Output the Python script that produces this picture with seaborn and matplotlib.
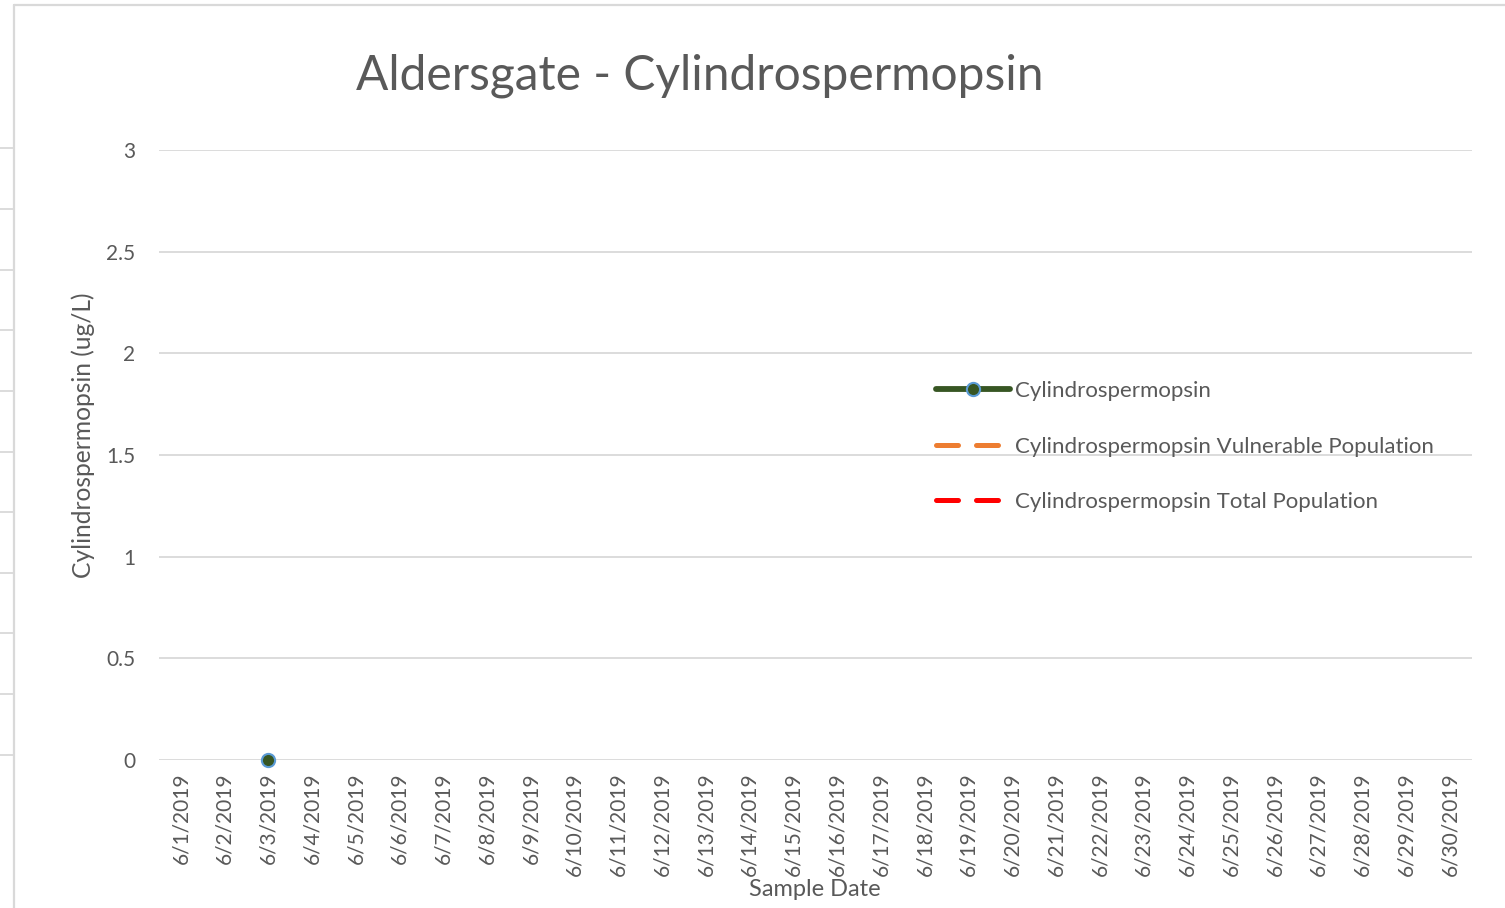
import matplotlib
matplotlib.use("Agg")
import matplotlib.pyplot as plt
from matplotlib.lines import Line2D
import seaborn as sns
import pandas as pd
import numpy as np

# ---- data ----
dates = [f"6/{d}/2019" for d in range(1, 31)]
cylindro = [np.nan] * 30
cylindro[2] = 0.0  # 6/3/2019 sample
series_names = ["Cylindrospermopsin",
                "Cylindrospermopsin Vulnerable Population",
                "Cylindrospermopsin Total Population"]
y_ticks = [0, 0.5, 1, 1.5, 2, 2.5, 3]
title = "Aldersgate - Cylindrospermopsin"

sns.set_theme(style="white")
plt.rcParams['font.family'] = ['Lato', 'DejaVu Sans']
TXT = "#595959"
GRID = "#D9D9D9"
GREEN = "#375623"
BLUE = "#5B9BD5"
ORANGE = "#ED7D31"
RED = "#FF0000"

fig = plt.figure(figsize=(15.05, 9.08), dpi=100)
ax = fig.add_axes([159/1505, 1-760/908, (1472-159)/1505, (760-150)/908])

df = pd.DataFrame({"date": dates, "value": cylindro})
sns.lineplot(data=df, x="date", y="value", ax=ax, color=GREEN, linewidth=4.2,
             marker="o", markersize=9.5, markerfacecolor=GREEN,
             markeredgecolor=BLUE, markeredgewidth=1.5, legend=False, sort=False)
ax.set_xticks(range(len(dates)))
ax.set_xticklabels(dates, rotation=90, fontsize=15, color=TXT)
ax.set_xlim(-0.5, len(dates) - 0.5)
ax.set_ylim(0, 3)
ax.set_yticks(y_ticks)
ax.set_yticklabels([f"{t:g}" for t in y_ticks], fontsize=15, color=TXT)
ax.tick_params(axis='both', length=0)
ax.tick_params(axis='y', pad=17)
ax.tick_params(axis='x', pad=9)
ax.grid(axis='y', color=GRID, linewidth=1.3)
ax.set_axisbelow(True)
for s in ax.spines.values():
    s.set_visible(False)
ax.patch.set_alpha(0)
for l in ax.get_lines():
    l.set_clip_on(False)

ax.set_xlabel("Sample Date", fontsize=17, color=TXT)
ax.xaxis.set_label_coords((815-159)/(1472-159), -(890-760)/(760-150))
ax.xaxis.label.set_va("center")
ax.set_ylabel("Cylindrospermopsin (ug/L)", fontsize=17.7, color=TXT)
ax.yaxis.set_label_coords(-(159-83)/(1472-159), (760-435)/(760-150))
ax.yaxis.label.set_va("center")
fig.text(700/1505, 1-76/908, title, fontsize=34.5, color=TXT, ha="center", va="center")

handles = [
    Line2D([], [], color=GREEN, lw=4.2, marker="o", markersize=9.5,
           markerfacecolor=GREEN, markeredgecolor=BLUE, markeredgewidth=1.5,
           solid_capstyle="round"),
    Line2D([], [], color=ORANGE, lw=3.6, linestyle=(0, (4.4, 3.6)),
           dash_capstyle="round"),
    Line2D([], [], color=RED, lw=3.6, linestyle=(0, (4.4, 3.6)),
           dash_capstyle="round"),
]
leg = fig.legend(handles, series_names, loc="upper left",
                 bbox_to_anchor=(936/1505, 1-381/908), frameon=False,
                 fontsize=16, handlelength=3.35, handletextpad=0.2,
                 labelspacing=1.6, borderaxespad=0, borderpad=0)
for t in leg.get_texts():
    t.set_color(TXT)

# screenshot border artifacts
fig.add_artist(Line2D([13.5/1505, 13.5/1505], [0, 1-5/908], color=GRID, lw=1.6,
                      transform=fig.transFigure))
fig.add_artist(Line2D([13.5/1505, 1], [1-5/908, 1-5/908], color=GRID, lw=1.6,
                      transform=fig.transFigure))
for yy in [148, 209, 270, 330, 391, 452, 512, 573, 633, 694, 755]:
    fig.add_artist(Line2D([0, 13/1505], [1-yy/908, 1-yy/908], color=GRID, lw=1.3,
                          transform=fig.transFigure))

fig.savefig("out.png", dpi=100)
